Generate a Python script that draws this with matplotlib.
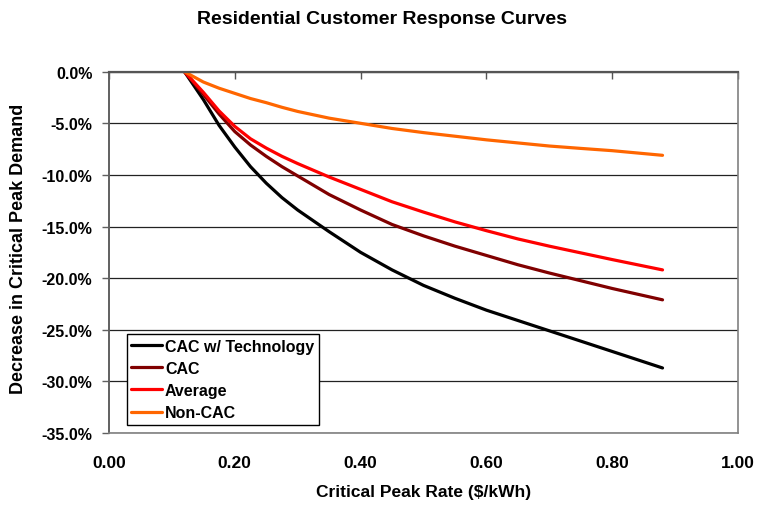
import matplotlib
matplotlib.use("Agg")
import matplotlib.pyplot as plt
from matplotlib.ticker import FuncFormatter, MultipleLocator

plt.rcParams['font.family'] = ['Liberation Sans', 'DejaVu Sans']
plt.rcParams['font.weight'] = 'bold'

rate = [0.12, 0.15, 0.175, 0.20, 0.225, 0.25, 0.275, 0.30, 0.35, 0.40, 0.45, 0.50,
        0.55, 0.60, 0.65, 0.70, 0.75, 0.80, 0.88]
cac_tech = [0.0, -2.7, -5.2, -7.3, -9.2, -10.8, -12.2, -13.4, -15.5, -17.5, -19.2, -20.7,
            -21.95, -23.1, -24.1, -25.1, -26.1, -27.1, -28.7]
cac = [0.0, -2.2, -4.1, -5.8, -7.1, -8.2, -9.2, -10.1, -11.9, -13.4, -14.8, -15.9,
       -16.9, -17.8, -18.7, -19.5, -20.25, -21.0, -22.1]
average = [0.0, -2.0, -3.8, -5.3, -6.5, -7.4, -8.2, -8.9, -10.2, -11.4, -12.6, -13.6,
           -14.55, -15.4, -16.2, -16.9, -17.55, -18.2, -19.2]
non_cac = [0.0, -1.0, -1.6, -2.1, -2.6, -3.0, -3.45, -3.85, -4.5, -5.0, -5.5, -5.9,
           -6.25, -6.6, -6.9, -7.2, -7.43, -7.65, -8.1]

series_names = ['CAC w/ Technology', 'CAC', 'Average', 'Non-CAC']
series_values = [cac_tech, cac, average, non_cac]
series_colors = ['#000000', '#800000', '#FF0000', '#FF6600']

title = 'Residential Customer Response Curves'
xlabel = 'Critical Peak Rate ($/kWh)'
ylabel = 'Decrease in Critical Peak Demand'

fig = plt.figure(figsize=(7.58, 5.06), dpi=100)
ax = fig.add_axes([109/758, 1-434/506, (738-109)/758, (434-72.7)/506])

for name, vals, col in zip(series_names, series_values, series_colors):
    ax.plot(rate, vals, color=col, lw=2.3, label=name, solid_capstyle='round',
            solid_joinstyle='round')

ax.set_xlim(0, 1.0)
ax.set_ylim(-35, 0)
ax.xaxis.set_major_locator(MultipleLocator(0.2))
ax.yaxis.set_major_locator(MultipleLocator(5))
ax.xaxis.set_major_formatter(FuncFormatter(lambda v, p: f'{v:.2f}'))
ax.yaxis.set_major_formatter(FuncFormatter(lambda v, p: f'{v:.1f}%'))

ax.yaxis.grid(True, color='#222222', lw=0.9)
ax.set_axisbelow(True)

for s in ['right', 'bottom']:
    ax.spines[s].set_color('#808080')
    ax.spines[s].set_linewidth(1.2)
ax.spines['left'].set_color('#606060')
ax.spines['left'].set_linewidth(1.4)
ax.spines['top'].set_color('#555555')
ax.spines['top'].set_linewidth(1.6)

ax.tick_params(axis='x', top=True, bottom=False, labeltop=False, labelbottom=True,
               direction='in', length=5, width=1, color='#555555', labelsize=12.5, pad=16)
ax.tick_params(axis='y', left=True, direction='out', length=5, width=1, color='#606060',
               labelsize=11.5, pad=7)

ax.set_xlabel(xlabel, fontsize=12.5, fontweight='bold')
ax.xaxis.set_label_coords(0.5, -0.14)
ax.set_ylabel(ylabel, fontsize=13, fontweight='bold')
ax.yaxis.set_label_coords(-0.13, 0.513)
fig.text(382/758, 1-20/506, title, ha='center', va='center', fontsize=14, fontweight='bold')

leg = ax.legend(loc='lower left', bbox_to_anchor=(0.028, 0.022), borderaxespad=0,
                fancybox=False, frameon=True, edgecolor='black', fontsize=11.5,
                handlelength=1.9, handletextpad=0.2, labelspacing=0.45, borderpad=0.3)
leg.get_frame().set_linewidth(1.0)
leg.get_frame().set_alpha(1)

fig.savefig('out.png', dpi=100)
